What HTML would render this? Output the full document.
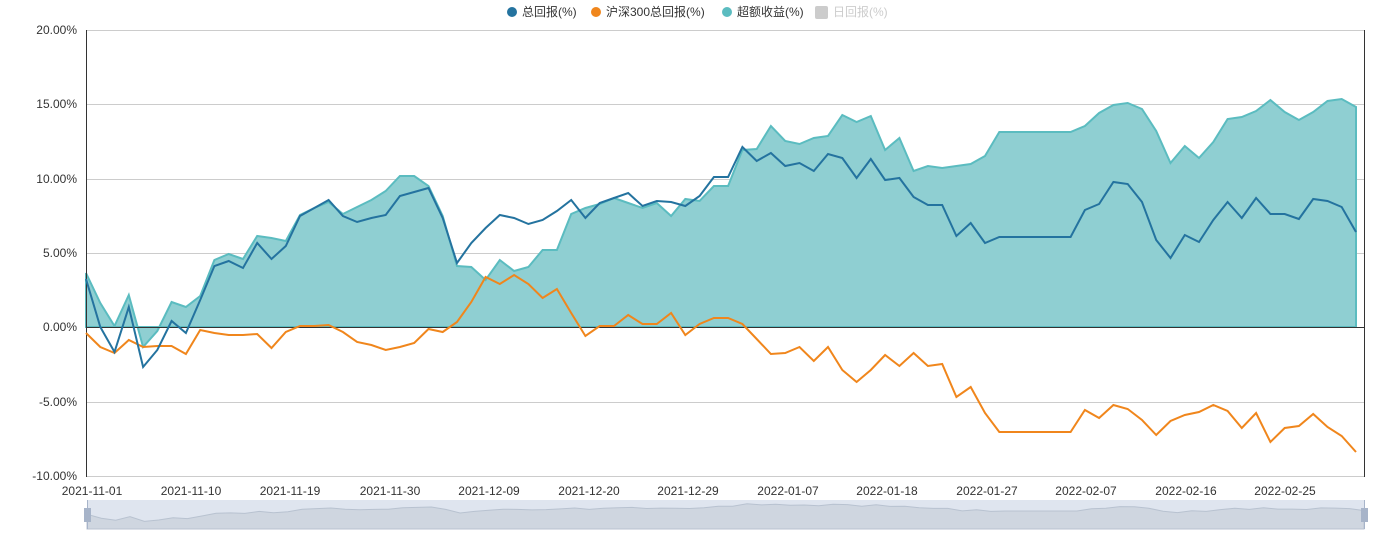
<!DOCTYPE html>
<html><head><meta charset="utf-8"><style>
body{margin:0;background:#fff;font-family:"Liberation Sans","Noto Sans CJK SC",sans-serif;}
svg text{font-family:"Liberation Sans","Noto Sans CJK SC",sans-serif;font-size:12px;fill:#333;}
</style></head><body>
<svg id="s" width="1393" height="537" xmlns="http://www.w3.org/2000/svg">
<g stroke="#ccc" stroke-width="1">
<line x1="86" y1="30.5" x2="1365" y2="30.5"/><line x1="86" y1="104.5" x2="1365" y2="104.5"/>
<line x1="86" y1="179.5" x2="1365" y2="179.5"/><line x1="86" y1="253.5" x2="1365" y2="253.5"/>
<line x1="86" y1="402.5" x2="1365" y2="402.5"/><line x1="86" y1="476.5" x2="1365" y2="476.5"/>
</g>
<path id="area" fill="#8fcfd2" stroke="#5bbcc0" stroke-width="2"/>
<line x1="86" y1="327.5" x2="1365" y2="327.5" stroke="#333"/>
<line x1="86.5" y1="30" x2="86.5" y2="477" stroke="#333"/>
<line x1="1364.5" y1="30" x2="1364.5" y2="477" stroke="#333"/>
<polyline id="org" fill="none" stroke="#f0861c" stroke-width="2"/>
<polyline id="blu" fill="none" stroke="#24739f" stroke-width="2"/>
<g text-anchor="end">
<text x="77" y="34">20.00%</text><text x="77" y="108">15.00%</text><text x="77" y="183">10.00%</text>
<text x="77" y="257">5.00%</text><text x="77" y="331">0.00%</text><text x="77" y="406">-5.00%</text><text x="77" y="480">-10.00%</text>
</g>
<g text-anchor="middle">
<text x="92" y="495">2021-11-01</text><text x="191" y="495">2021-11-10</text><text x="290" y="495">2021-11-19</text>
<text x="390" y="495">2021-11-30</text><text x="489" y="495">2021-12-09</text><text x="589" y="495">2021-12-20</text>
<text x="688" y="495">2021-12-29</text><text x="788" y="495">2022-01-07</text><text x="887" y="495">2022-01-18</text>
<text x="987" y="495">2022-01-27</text><text x="1086" y="495">2022-02-07</text><text x="1186" y="495">2022-02-16</text>
<text x="1285" y="495">2022-02-25</text>
</g>
<rect x="87" y="500" width="1278" height="29" fill="#dfe5ef"/>
<path id="mini" fill="#cfd6e0" stroke="#b8c2d0" stroke-width="1"/>
<line x1="87.5" y1="500" x2="87.5" y2="529" stroke="#a7b4c9"/><line x1="1364.5" y1="500" x2="1364.5" y2="529" stroke="#a7b4c9"/>
<rect x="84" y="508" width="7" height="14" fill="#a7b4c9"/><rect x="1361" y="508" width="7" height="14" fill="#a7b4c9"/>
<g font-size="12">
<circle cx="512" cy="12" r="5" fill="#24739f"/><text x="522" y="16">总回报(%)</text>
<circle cx="596" cy="12" r="5" fill="#f0861c"/><text x="606" y="16">沪深300总回报(%)</text>
<circle cx="727" cy="12" r="5" fill="#5bbcc0"/><text x="737" y="16">超额收益(%)</text>
<rect x="815" y="6" width="13" height="13" rx="2" fill="#ccc"/><text x="833" y="16" style="fill:#ccc">日回报(%)</text>
</g>
</svg>
<script>
var B=[279,327,352,307,367,350,321,333,300,266,261,268,243,259,246,216,208,200,216,222,218,215,196,192,188,218,263,243,228,215,218,224,220,211,200,218,203,198,193,206,201,202,206,196,177,177,147,161,153,166,163,171,154,158,178,159,180,178,197,205,205,236,223,243,237,237,237,237,237,237,210,204,182,184,202,240,258,235,242,220,202,218,198,214,214,219,199,201,207,232];
var O=[333,347,353,340,347,346,346,354,330,333,335,335,334,348,332,326,326,325,332,342,345,350,347,343,329,332,322,302,277,284,275,284,298,289,313,336,326,326,315,324,324,313,335,324,318,318,324,339,354,353,347,361,347,370,382,370,355,366,353,366,364,397,387,413,432,432,432,432,432,432,410,418,405,409,420,435,421,415,412,405,411,428,413,442,428,426,414,427,436,452];
var E=[273,303,326,295,347,331,302,307,296,260,254,259,236,238,241,215,208,202,214,207,200,191,176,176,186,216,266,267,280,260,271,267,250,250,214,208,204,198,203,208,203,216,199,201,186,186,150,149,126,141,144,138,136,115,122,116,150,138,171,166,168,166,164,156,132,132,132,132,132,132,126,113,105,103,109,131,163,146,158,142,119,117,111,100,112,120,112,101,99,107];
var dx=1270/89;function X(i){return (86+i*dx).toFixed(1);}
function pts(a){return a.map(function(v,i){return X(i)+','+v;}).join(' ');}
document.getElementById('blu').setAttribute('points',pts(B));
document.getElementById('org').setAttribute('points',pts(O));
document.getElementById('area').setAttribute('d','M86,327 L'+pts(E).replace(/ /g,' L')+' L'+X(89)+',327 Z');
var mdx=1277/89,m='M87,529';B.forEach(function(v,i){m+=' L'+(87+i*mdx).toFixed(1)+','+(512+(v-250)*0.08).toFixed(1);});
document.getElementById('mini').setAttribute('d',m+' L1364,529 Z');
</script>
</body></html>
